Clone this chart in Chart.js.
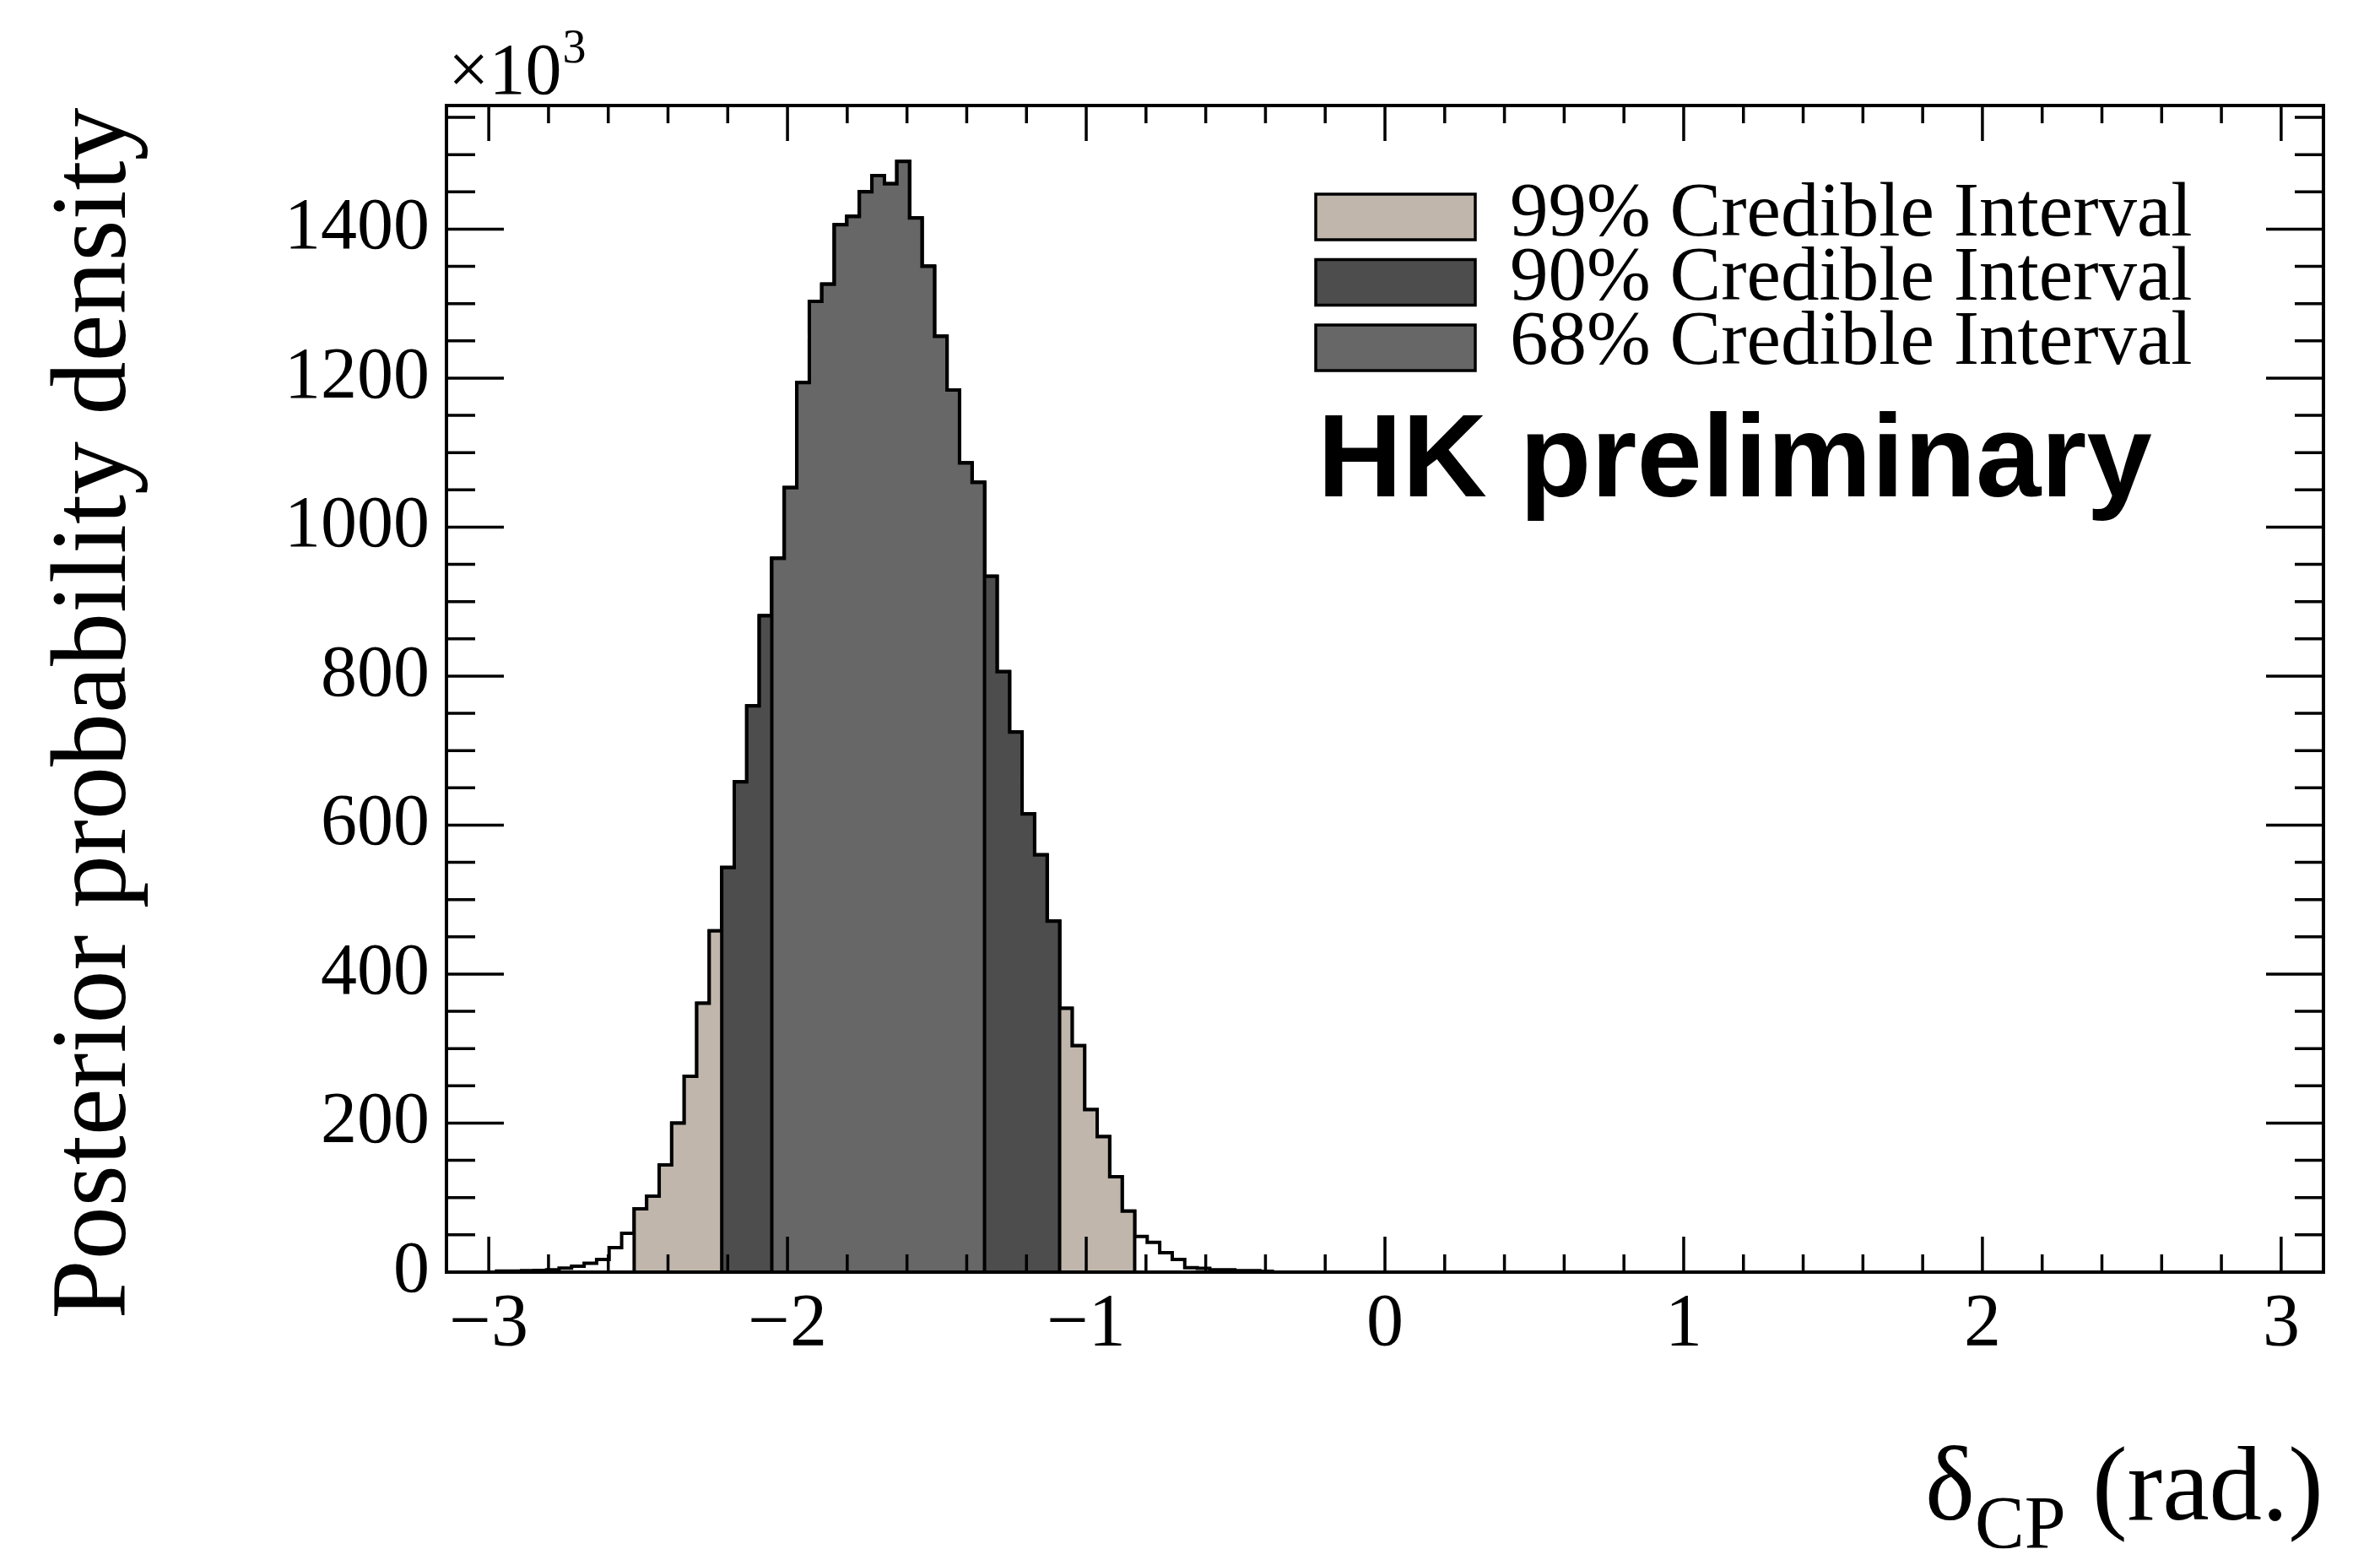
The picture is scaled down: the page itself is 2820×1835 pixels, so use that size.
<!DOCTYPE html>
<html>
<head>
<meta charset="utf-8">
<script src="https://cdn.jsdelivr.net/npm/chart.js@4.4.1/dist/chart.umd.min.js"></script>
<style>
html,body{margin:0;padding:0;background:#ffffff;}
canvas{display:block;}
</style>
</head>
<body>
<canvas id="c" width="2820" height="1835" style="width:2820px;height:1835px"></canvas>
<script>
// ---------------- DATA ----------------
const xRange = [-Math.PI, Math.PI];
const binCount = 150;
// posterior probability density per bin (x10^3), bins of width 2*pi/150 starting at -pi
const densityValues = [
  0, 0, 0, 0, 1.5, 1.5, 2, 2.2, 3, 5.5,
  8, 12, 17, 33, 52, 85, 102, 144, 200, 263,
  361, 458, 543, 658, 760, 881, 958, 1053, 1194, 1303,
  1326, 1406, 1417, 1450, 1472, 1461, 1491, 1415, 1350, 1256,
  1184, 1086, 1060, 934, 806, 725, 615, 560, 471, 354,
  304, 218, 182, 128, 82, 48, 40, 26, 17, 6,
  5, 3, 3, 2, 2, 1, 0, 0, 0, 0,
  0, 0, 0, 0, 0, 0, 0, 0, 0, 0,
  0, 0, 0, 0, 0, 0, 0, 0, 0, 0,
  0, 0, 0, 0, 0, 0, 0, 0, 0, 0,
  0, 0, 0, 0, 0, 0, 0, 0, 0, 0,
  0, 0, 0, 0, 0, 0, 0, 0, 0, 0,
  0, 0, 0, 0, 0, 0, 0, 0, 0, 0,
  0, 0, 0, 0, 0, 0, 0, 0, 0, 0,
  0, 0, 0, 0, 0, 0, 0, 0, 0, 0
];
const intervalLabels = ['99% Credible Interval', '90% Credible Interval', '68% Credible Interval'];
// first and last bin index of each credible interval
const intervalFirstBin = [15, 22, 26];
const intervalLastBin = [54, 48, 42];
const yAxisMax = 1566;
const xTickValues = [-3, -2, -1, 0, 1, 2, 3];
const yTickValues = [0, 200, 400, 600, 800, 1000, 1200, 1400];
const yTitle = 'Posterior probability density';
const xTitleMain = 'δ';
const xTitleSub = 'CP';
const xTitleRest = ' (rad.)';
const scaleText = '×10';
const scaleExp = '3';
const stampText = 'HK preliminary';

// ---------------- STYLE ----------------
const intervalColors = ['#c0b6ac', '#4d4d4d', '#676767'];
const serif = '"Liberation Serif", "Times New Roman", serif';
const sans = '"Liberation Sans", Arial, sans-serif';

const binWidth = (xRange[1] - xRange[0]) / binCount;
const edge = k => xRange[0] + k * binWidth;

function regionPoints(first, last) {
  const pts = [{x: edge(first), y: 0}];
  for (let k = first; k <= last; k++) pts.push({x: edge(k), y: densityValues[k]});
  pts.push({x: edge(last + 1), y: densityValues[last]});
  pts.push({x: edge(last + 1), y: 0});
  return pts;
}

const baseLine = {
  type: 'line', stepped: true, borderColor: '#000', borderWidth: 4,
  pointRadius: 0, pointHoverRadius: 0, fill: 'origin', tension: 0
};

const datasets = [Object.assign({}, baseLine, {
  label: 'posterior', data: regionPoints(0, binCount - 1), backgroundColor: '#ffffff', order: 10
})];
intervalLabels.forEach((lab, i) => {
  datasets.push(Object.assign({}, baseLine, {
    label: lab, data: regionPoints(intervalFirstBin[i], intervalLastBin[i]),
    backgroundColor: intervalColors[i], order: 9 - i
  }));
});

const frameTicks = {
  id: 'frameTicks',
  afterDatasetsDraw(chart) {
    const {ctx, chartArea: a, scales} = chart;
    const xs = scales.x, ys = scales.y;
    ctx.save();
    ctx.strokeStyle = '#000';
    ctx.lineWidth = 3.5;
    ctx.beginPath();
    for (let i = -15; i <= 15; i++) {
      const v = i * 0.2;
      if (v < xRange[0] || v > xRange[1]) continue;
      const px = xs.getPixelForValue(v);
      const len = (i % 5 === 0) ? 42 : 21;
      ctx.moveTo(px, a.bottom); ctx.lineTo(px, a.bottom - len);
      ctx.moveTo(px, a.top); ctx.lineTo(px, a.top + len);
    }
    for (let v = 0; v <= yAxisMax; v += 50) {
      const py = ys.getPixelForValue(v);
      const len = (v % 200 === 0) ? 68 : 34;
      ctx.moveTo(a.left, py); ctx.lineTo(a.left + len, py);
      ctx.moveTo(a.right, py); ctx.lineTo(a.right - len, py);
    }
    ctx.stroke();
    ctx.lineWidth = 4;
    ctx.strokeRect(a.left, a.top, a.right - a.left, a.bottom - a.top);
    ctx.restore();
  }
};

const texts = {
  id: 'texts',
  afterDraw(chart) {
    const {ctx, chartArea: a} = chart;
    ctx.save();
    ctx.fillStyle = '#000';
    ctx.textBaseline = 'alphabetic';
    // x10^3
    ctx.textAlign = 'left';
    ctx.font = '86px ' + serif;
    ctx.fillText(scaleText, 531, 111);
    const w10 = ctx.measureText(scaleText).width;
    ctx.font = '56px ' + serif;
    ctx.fillText(scaleExp, 531 + w10 + 1, 74);
    // y title
    ctx.save();
    ctx.translate(148, 845);
    ctx.rotate(-Math.PI / 2);
    ctx.textAlign = 'center';
    ctx.font = '126px ' + serif;
    ctx.fillText(yTitle, 0, 0);
    ctx.restore();
    // x title
    ctx.font = '125px ' + serif;
    const wd = ctx.measureText(xTitleMain).width;
    const wr = ctx.measureText(xTitleRest).width;
    ctx.font = '88px ' + serif;
    const ws = ctx.measureText(xTitleSub).width;
    const x0 = a.right - (wd + ws + wr);
    ctx.font = '125px ' + serif;
    ctx.fillText(xTitleMain, x0, 1800);
    ctx.fillText(xTitleRest, x0 + wd + ws, 1800);
    ctx.font = '88px ' + serif;
    ctx.fillText(xTitleSub, x0 + wd, 1833);
    // legend
    chart.data.datasets.slice(1).forEach((ds, i) => {
      const by = 230 + i * 77.5;
      ctx.fillStyle = ds.backgroundColor;
      ctx.fillRect(1559, by, 189, 54);
      ctx.strokeStyle = '#000';
      ctx.lineWidth = 3.5;
      ctx.strokeRect(1559, by, 189, 54);
      ctx.fillStyle = '#000';
      ctx.font = '91px ' + serif;
      ctx.fillText(ds.label, 1789, 279 + i * 76);
    });
    // stamp
    ctx.font = 'bold 139px ' + sans;
    ctx.fillText(stampText, 1561, 588);
    ctx.restore();
  }
};

const fmt = v => (v < 0 ? '\u2212' + Math.abs(v) : String(v));

new Chart(document.getElementById('c'), {
  type: 'line',
  data: {datasets},
  options: {
    responsive: false,
    devicePixelRatio: 1,
    animation: false,
    events: [],
    layout: {padding: {left: 0, top: 125, right: 67, bottom: 128}},
    plugins: {legend: {display: false}, tooltip: {enabled: false}},
    scales: {
      x: {
        type: 'linear', min: xRange[0], max: xRange[1],
        afterFit: s => { s.height = 200; },
        afterBuildTicks: s => { s.ticks = xTickValues.map(v => ({value: v})); },
        grid: {display: false, drawTicks: false},
        border: {display: false},
        ticks: {padding: 10, color: '#000', font: {family: serif, size: 88}, maxRotation: 0, autoSkip: false, callback: v => fmt(v)}
      },
      y: {
        type: 'linear', min: 0, max: yAxisMax,
        afterFit: s => { s.width = 529; },
        afterBuildTicks: s => { s.ticks = yTickValues.map(v => ({value: v})); },
        grid: {display: false, drawTicks: false},
        border: {display: false},
        ticks: {padding: 20, color: '#000', font: {family: serif, size: 86}, autoSkip: false, callback: v => String(v)}
      }
    }
  },
  plugins: [frameTicks, texts]
});
</script>
</body>
</html>
